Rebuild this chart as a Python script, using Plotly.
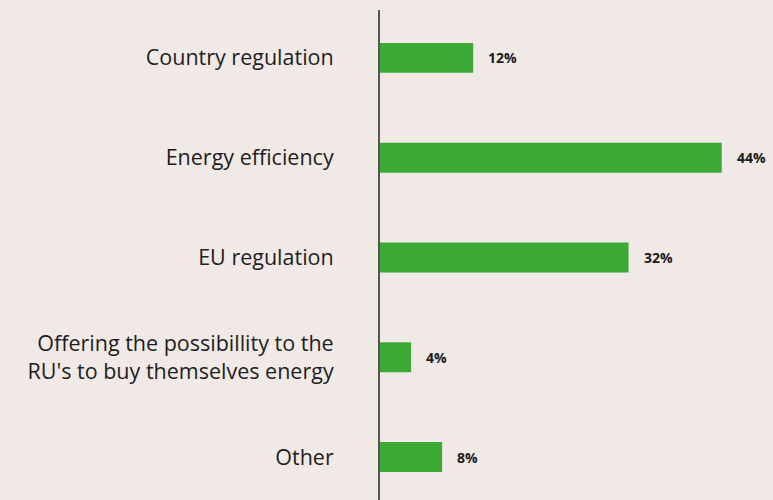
import plotly.graph_objects as go

# Survey answers and their shares (%)
categories = [
    "Country regulation",
    "Energy efficiency",
    "EU regulation",
    "Offering the possibillity to the<br>RU's to buy themselves energy",
    "Other",
]
shares = [12, 44, 32, 4, 8]
share_labels = [f"{v}%" for v in shares]

BAR_GREEN = "#3aaa35"
BG = "#f1e9e6"

fig = go.Figure(
    go.Bar(
        x=shares,
        y=categories,
        orientation="h",
        marker=dict(color=BAR_GREEN, line=dict(width=0)),
        width=0.3,
        hoverinfo="skip",
    )
)

# Value labels to the right of each bar
for cat, val, lab in zip(categories, shares, share_labels):
    fig.add_annotation(
        x=val, y=cat, text=f"<b>{lab}</b>", showarrow=False,
        xanchor="left", xshift=13, yshift=0,
        font=dict(family="Open Sans, sans-serif", size=14, color="#1a1a1a"),
    )

fig.update_layout(
    width=773, height=500,
    margin=dict(l=380, r=0, t=10, b=0),
    paper_bgcolor=BG, plot_bgcolor=BG,
    showlegend=False,
    xaxis=dict(range=[0, 50.6], visible=False, fixedrange=True),
    yaxis=dict(
        type="category",
        range=[4.43, -0.48],
        showgrid=False, zeroline=False,
        showline=True, linecolor="#555555", linewidth=2,
        ticks="", ticklabelstandoff=40,
        tickfont=dict(family="Open Sans, sans-serif", size=21.5, color="#1e1e1e"),
    ),
)

fig.write_html("out.html")
